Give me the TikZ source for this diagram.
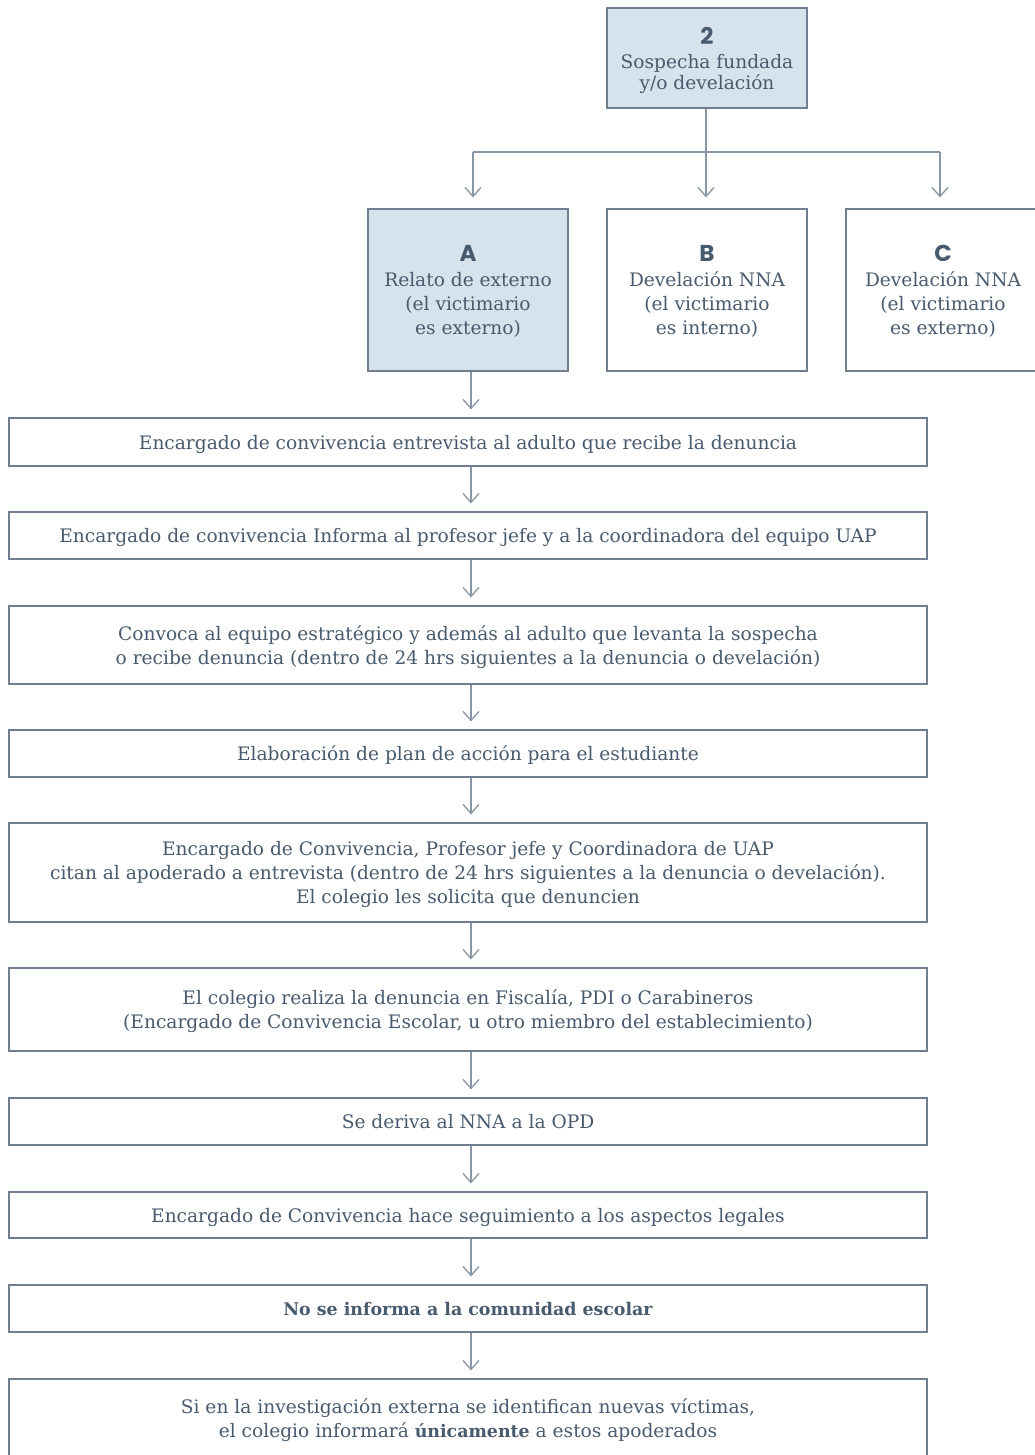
\documentclass[tikz,border=0pt]{standalone}
\usepackage{fontspec}
\setmainfont{DejaVu Serif}
\newfontfamily\headfont{Poppins}
\usetikzlibrary{arrows.meta}
\definecolor{txt}{HTML}{485A6E}
\definecolor{edge}{HTML}{6F7F8F}
\definecolor{boxfill}{HTML}{D6E2EC}
\definecolor{conn}{HTML}{8796A5}
\newcommand{\hd}[1]{{\headfont\bfseries\fontsize{23}{24}\selectfont #1}}
\newcommand{\bd}[1]{{\bfseries\fontsize{17.4}{24}\selectfont #1}}
\begin{document}
\begin{tikzpicture}[x=1pt,y=-1pt,
  box/.style={draw=edge,line width=1.2pt,inner sep=0pt,text=txt,align=center,
    text depth=0pt,font=\fontsize{18.6}{24}\selectfont},
  wide/.style={box,minimum width=918pt},
  small/.style={box,minimum width=200pt,minimum height=162pt},
  shaded/.style={fill=boxfill},
  conline/.style={draw=conn,line width=1.3pt},
  arr/.style={conline,-{Straight Barb[length=9pt,width=16pt,line width=1.3pt]}}]
\useasboundingbox (0,0) rectangle (1034,1455);
\fill[white] (0,0) rectangle (1034,1455);

% top box
\node[box,shaded,minimum width=200pt,minimum height=100pt,font=\fontsize{18.6}{21}\selectfont] (two) at (707,58)
  {\hd{2}\\[3pt] Sospecha fundada\\ y/o develación};

% three boxes
\node[small,shaded] (A) at (468,290) {\hd{A}\\[1pt] Relato de externo\\ (el victimario\\ es externo)};
\node[small] (B) at (707,290) {\hd{B}\\[1pt] Develación NNA\\ (el victimario\\ es interno)};
\node[small,minimum width=194pt] (C) at (943,290) {\hd{C}\\[1pt] Develación NNA\\ (el victimario\\ es externo)};

% branching
\coordinate (jl) at (473,152);
\coordinate (jm) at (706,152);
\coordinate (jr) at (940,152);
\draw[conline] (jl) -- (jr);
\draw[arr] (two.south -| jm) -- ([yshift=11pt]B.north -| jm);
\draw[arr] (jl) -- ([yshift=11pt]A.north -| jl);
\draw[arr] (jr) -- ([yshift=11pt]C.north -| jr);

% vertical chain
\node[wide,minimum height=48pt] (b1) at (468,442) {Encargado de convivencia entrevista al adulto que recibe la denuncia};
\node[wide,minimum height=47pt] (b2) at (468,535.5) {Encargado de convivencia Informa al profesor jefe y a la coordinadora del equipo UAP};
\node[wide,minimum height=78pt] (b3) at (468,645) {Convoca al equipo estratégico y además al adulto que levanta la sospecha\\ o recibe denuncia (dentro de 24 hrs siguientes a la denuncia o develación)};
\node[wide,minimum height=47pt] (b4) at (468,753.5) {Elaboración de plan de acción para el estudiante};
\node[wide,minimum height=99pt] (b5) at (468,872.5) {Encargado de Convivencia, Profesor jefe y Coordinadora de UAP\\ citan al apoderado a entrevista (dentro de 24 hrs siguientes a la denuncia o develación).\\ El colegio les solicita que denuncien};
\node[wide,minimum height=83pt] (b6) at (468,1009.5) {El colegio realiza la denuncia en Fiscalía, PDI o Carabineros\\ (Encargado de Convivencia Escolar, u otro miembro del establecimiento)};
\node[wide,minimum height=47pt] (b7) at (468,1121.5) {Se deriva al NNA a la OPD};
\node[wide,minimum height=46pt] (b8) at (468,1215) {Encargado de Convivencia hace seguimiento a los aspectos legales};
\node[wide,minimum height=47pt] (b9) at (468,1308.5) {\bd{No se informa a la comunidad escolar}};
\node[wide,minimum height=78pt] (b10) at (468,1418) {Si en la investigación externa se identifican nuevas víctimas,\\ el colegio informará \bd{únicamente} a estos apoderados};

\coordinate (ax) at (471,0);
\draw[arr] (A.south -| ax) -- ([yshift=8pt]b1.north -| ax);
\foreach \p/\q in {b1/b2,b2/b3,b3/b4,b4/b5,b5/b6,b6/b7,b7/b8,b8/b9,b9/b10}
  \draw[arr] (\p.south -| ax) -- ([yshift=8pt]\q.north -| ax);
\end{tikzpicture}
\end{document}
